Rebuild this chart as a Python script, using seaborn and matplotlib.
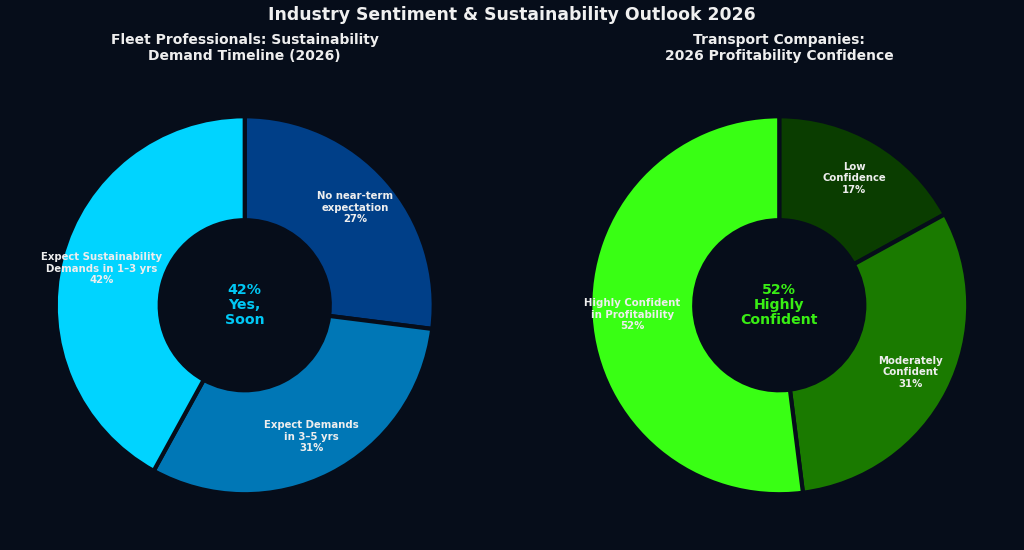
import matplotlib
matplotlib.use("Agg")
import matplotlib.pyplot as plt
import numpy as np
import seaborn as sns

# data
fleet_labels = ["No near-term\nexpectation", "Expect Demands\nin 3\u20135 yrs", "Expect Sustainability\nDemands in 1\u20133 yrs"]
fleet_values = [27, 31, 42]
fleet_colors = ["#003f88", "#0077b6", "#00d4ff"]

transport_labels = ["Low\nConfidence", "Moderately\nConfident", "Highly Confident\nin Profitability"]
transport_values = [17, 31, 52]
transport_colors = ["#0a3d00", "#1a7a00", "#39ff14"]

bg = "#060d1a"
sns.set_theme(style="dark")
plt.rcParams["font.family"] = ["DejaVu Sans"]

fig = plt.figure(figsize=(10.24, 5.5), dpi=100, facecolor=bg)
ax1 = fig.add_axes([0.036, 0.067, 0.406, 0.756])
ax2 = fig.add_axes([0.558, 0.067, 0.406, 0.756])


def donut(ax, labels, values, colors, center_text, center_color):
    ax.set_facecolor(bg)
    wedges, _ = ax.pie(values, colors=colors, startangle=90, counterclock=False,
                       wedgeprops=dict(width=0.55, edgecolor=bg, linewidth=3))
    for w, lab, v in zip(wedges, labels, values):
        ang = np.deg2rad((w.theta1 + w.theta2) / 2)
        r = 0.78
        ax.text(r * np.cos(ang), r * np.sin(ang), f"{lab}\n{v}%", ha="center", va="center",
                fontsize=7.3, fontweight="bold", color="#eeeeee", linespacing=1.2)
    ax.text(0, 0, center_text, ha="center", va="center", fontsize=10.2,
            fontweight="bold", color=center_color, linespacing=1.1)
    ax.set_xlim(-1.1, 1.1)
    ax.set_ylim(-1.1, 1.1)
    ax.set_aspect("equal")
    ax.axis("off")


donut(ax1, fleet_labels, fleet_values, fleet_colors, "42%\nYes,\nSoon", "#00c8f5")
donut(ax2, transport_labels, transport_values, transport_colors, "52%\nHighly\nConfident", "#39ee14")

fig.text(0.5, 0.973, "Industry Sentiment & Sustainability Outlook 2026", ha="center", va="center",
         fontsize=12.4, fontweight="bold", color="#f0f0f0")
fig.text(0.239, 0.913, "Fleet Professionals: Sustainability\nDemand Timeline (2026)", ha="center",
         va="center", fontsize=10, fontweight="bold", color="#eeeeee", linespacing=1.15)
fig.text(0.761, 0.913, "Transport Companies:\n2026 Profitability Confidence", ha="center",
         va="center", fontsize=10, fontweight="bold", color="#eeeeee", linespacing=1.15)

fig.savefig("out.png", dpi=100, facecolor=bg)
